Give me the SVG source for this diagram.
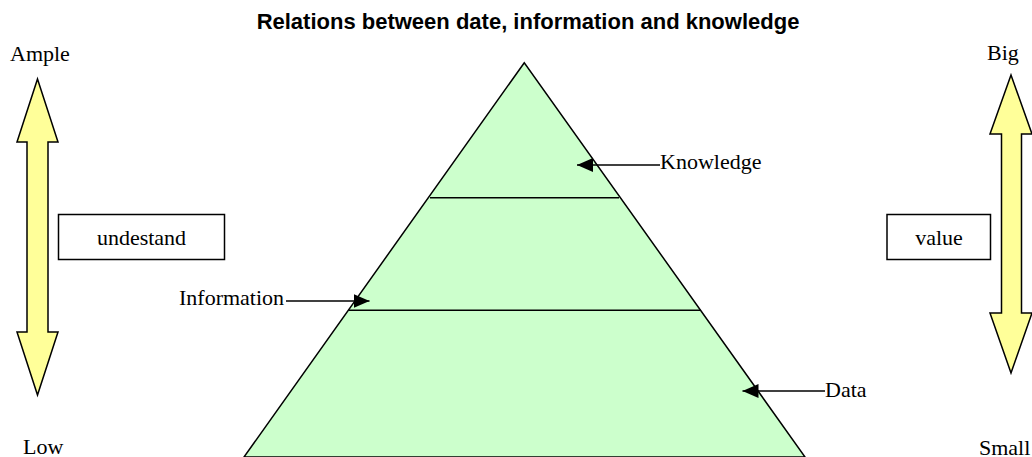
<svg xmlns="http://www.w3.org/2000/svg" width="1032" height="457" viewBox="0 0 1032 457">
<style>
.t{font-family:"Liberation Serif","Times New Roman",serif;font-size:22px;fill:#000}
.title{font-family:"Liberation Sans",Arial,sans-serif;font-size:22px;font-weight:bold;fill:#000}
.arr{fill:#FFFF99;stroke:#000;stroke-width:1.5;stroke-linejoin:miter}
.box{fill:#fff;stroke:#000;stroke-width:1.5}
.pyr{fill:#CCFFCC;stroke:#000;stroke-width:1.5}
.ln{stroke:#000;stroke-width:1.5;fill:none}
</style>
<defs>
<marker id="ah" markerUnits="userSpaceOnUse" markerWidth="18" markerHeight="16" refX="16" refY="7" orient="auto">
<path d="M0,0 L16,7 L0,14 Z" fill="#000"/>
</marker>
</defs>
<rect width="1032" height="457" fill="#fff"/>
<text class="title" x="528" y="29" text-anchor="middle">Relations between date, information and knowledge</text>
<g id="pyramid">
<polygon class="pyr" points="524.3,62.7 244,457 805,457"/>
<line class="ln" x1="430" y1="197.7" x2="619" y2="197.7"/>
<line class="ln" x1="348.5" y1="310.3" x2="700.5" y2="310.3"/>
</g>
<g id="left-arrow">
<polygon class="arr" points="37.5,79 58,142 48,142 48,332 58,332 37.5,395 17,332 27,332 27,142 17,142"/>
<text class="t" x="10" y="61">Ample</text>
<text class="t" x="23" y="454">Low</text>
</g>
<g id="undestand">
<rect class="box" x="58.5" y="214.5" width="166" height="45"/>
<text class="t" x="141.5" y="245" text-anchor="middle">undestand</text>
</g>
<g id="right-arrow">
<polygon class="arr" points="1011,75 1032,134 1021.5,134 1021.5,313 1032,313 1011,373 990,313 1001.5,313 1001.5,134 990,134"/>
<text class="t" x="987" y="60">Big</text>
<text class="t" x="979" y="455">Small</text>
</g>
<g id="value">
<rect class="box" x="887" y="214.5" width="103.5" height="45"/>
<text class="t" x="939" y="245" text-anchor="middle">value</text>
</g>
<g id="label-knowledge"><text class="t" x="660" y="169">Knowledge</text></g>
<g id="label-information"><text class="t" x="179" y="305">Information</text></g>
<g id="label-data"><text class="t" x="825" y="397">Data</text></g>
<g id="connectors">
<line class="ln" x1="660" y1="165" x2="577" y2="165" marker-end="url(#ah)"/>
<line class="ln" x1="286" y1="301" x2="369.5" y2="301" marker-end="url(#ah)"/>
<line class="ln" x1="825" y1="391" x2="742.5" y2="391" marker-end="url(#ah)"/>
</g>
</svg>
